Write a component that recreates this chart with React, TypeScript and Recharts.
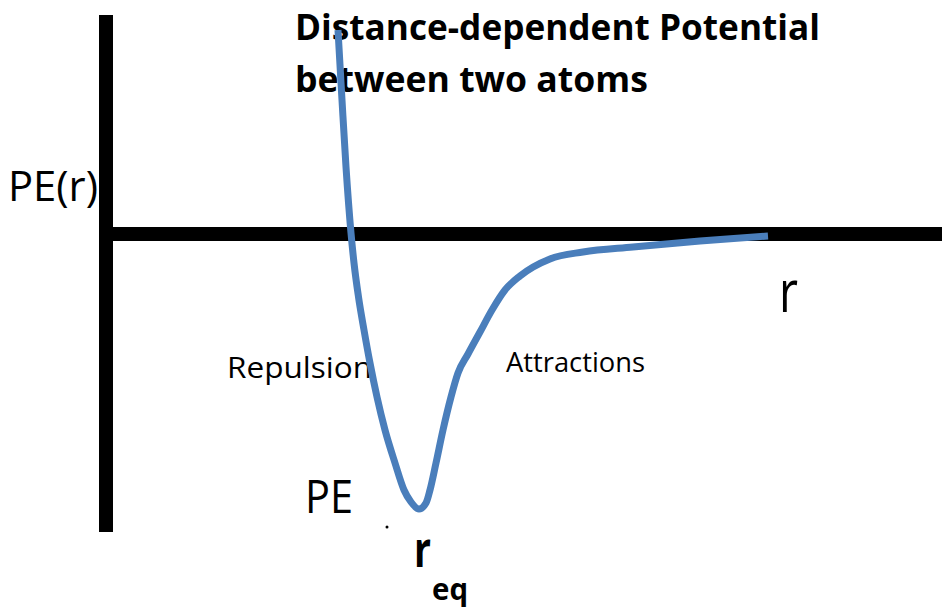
import React from "react";
import { ComposedChart, Line, XAxis, YAxis, ReferenceLine } from "recharts";

// Separation r (arbitrary units) and potential energy PE(r) (arbitrary units)
const rValues = [2.32, 2.36, 2.4, 2.45, 2.48, 2.525, 2.58, 2.64, 2.71, 2.79, 2.89, 2.98, 3.05, 3.13, 3.2, 3.24, 3.3, 3.37, 3.45, 3.52, 3.62, 3.74, 3.86, 3.99, 4.14, 4.44, 4.77, 5.27, 5.94, 6.62];
const peValues = [2.04, 1.34, 0.67, 0.01, -0.29, -0.63, -0.96, -1.29, -1.63, -1.96, -2.29, -2.56, -2.68, -2.75, -2.69, -2.56, -2.29, -1.96, -1.63, -1.39, -1.2, -0.98, -0.76, -0.56, -0.42, -0.25, -0.18, -0.13, -0.07, -0.02];

const xDomain = [-1.06, 8.36];
const yDomain = [-3.74, 2.34];
const yAxisTop = 2.19;
const yAxisBottom = -2.98;

const data = rValues.map((r, i) => ({ r, pe: peValues[i] }));

const FONT = "'Open Sans', Lato, sans-serif";

type TProps = { x: number; y: number; size: number; len: number; bold?: boolean; children: string };
function T({ x, y, size, len, bold, children }: TProps) {
  return (
    <text
      x={x}
      y={y}
      fontFamily={FONT}
      fontWeight={bold ? 700 : 400}
      fontSize={size}
      fill="#000"
      textLength={len}
      lengthAdjust="spacingAndGlyphs"
    >
      {children}
    </text>
  );
}

export default function App() {
  return (
    <div style={{ position: "absolute", left: 0, top: 0, width: 942, height: 608, background: "#fff" }}>
      <ComposedChart width={942} height={608} data={data} margin={{ top: 0, right: 0, bottom: 0, left: 0 }}>
        <XAxis type="number" dataKey="r" domain={xDomain} hide allowDataOverflow />
        <YAxis type="number" domain={yDomain} hide allowDataOverflow />
        <ReferenceLine
          segment={[{ x: 0, y: 0 }, { x: xDomain[1], y: 0 }]}
          stroke="#000"
          strokeWidth={14}
          ifOverflow="visible"
        />
        <ReferenceLine
          segment={[{ x: 0, y: yAxisTop }, { x: 0, y: yAxisBottom }]}
          stroke="#000"
          strokeWidth={14}
          ifOverflow="visible"
        />
        <Line
          type="monotone"
          dataKey="pe"
          stroke="#4a7ebb"
          strokeWidth={7}
          dot={false}
          activeDot={false}
          isAnimationActive={false}
          strokeLinejoin="round"
        />
        <T x={295} y={40} size={35} len={525} bold>Distance-dependent Potential</T>
        <T x={295} y={92} size={35} len={353} bold>between two atoms</T>
        <T x={8} y={201} size={42} len={90}>PE(r)</T>
        <T x={779} y={312} size={58} len={19}>r</T>
        <T x={227} y={378} size={29} len={145}>Repulsion</T>
        <T x={506} y={372} size={28} len={139}>Attractions</T>
        <T x={305} y={513} size={45} len={48}>PE</T>
        <circle cx={387} cy={527} r={1.5} fill="#000" />
        <T x={414} y={567} size={48} len={17} bold>r</T>
        <T x={432} y={600} size={31} len={36} bold>eq</T>
      </ComposedChart>
    </div>
  );
}
